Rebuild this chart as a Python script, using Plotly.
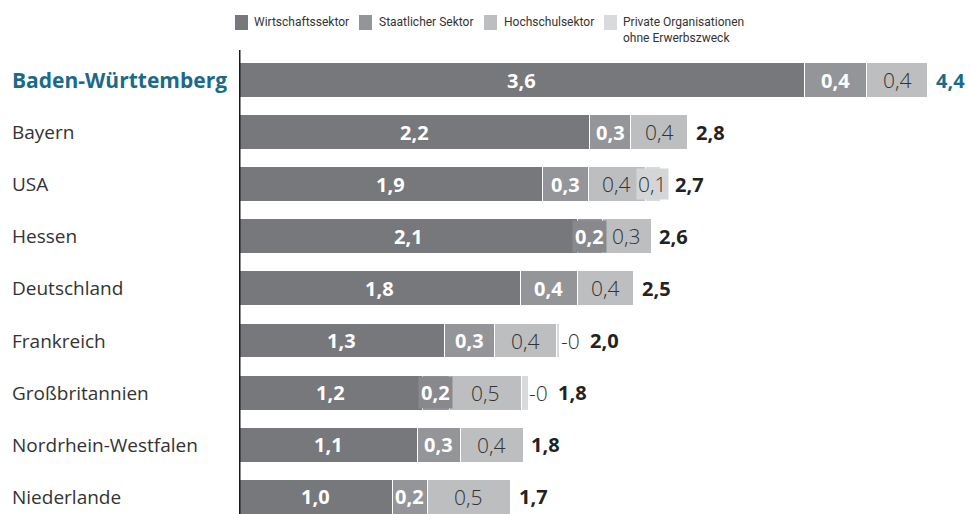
import plotly.graph_objects as go

# ---------------- data ----------------
categories = ["Baden-Württemberg", "Bayern", "USA", "Hessen", "Deutschland",
              "Frankreich", "Großbritannien", "Nordrhein-Westfalen", "Niederlande"]
wirtschaft = [3.58, 2.22, 1.92, 2.14, 1.78, 1.30, 1.16, 1.13, 0.97]
staat = [0.39, 0.26, 0.29, 0.16, 0.36, 0.32, 0.17, 0.27, 0.22]
hochschule = [0.39, 0.36, 0.36, 0.31, 0.36, 0.39, 0.46, 0.40, 0.53]
privat = [0.00, 0.00, 0.10, 0.00, 0.00, 0.02, 0.04, 0.00, 0.00]
series_names = ["Wirtschaftssektor", "Staatlicher Sektor", "Hochschulsektor",
                "Private Organisationen<br>ohne Erwerbszweck"]

# ---------------- style ----------------
W, H = 970, 514
colors = ["#77787b", "#949598", "#bdbec0", "#d9dadb"]
highlight = "#1c6a89"
FONT = "Open Sans"
LEGFONT = "Roboto"
X0PX = 239          # left edge of plot area in px
TOPPX = 54          # top of plot area in px
XMAX = 4.627        # x range end
PXU = (W - X0PX) / XMAX  # px per unit


def fmt(v):
    return f"{v:.1f}".replace(".", ",")


def px(xp):
    return xp / W


def py(ypx):
    return (H - ypx) / H


fig = go.Figure()
series = [wirtschaft, staat, hochschule, privat]
for vals, col, name in zip(series, colors, series_names):
    fig.add_trace(go.Bar(
        y=categories, x=vals, orientation="h", name=name,
        marker=dict(color=col, line=dict(color="white", width=1)),
        hoverinfo="x+y", showlegend=False,
    ))

ann = []
for i, cat in enumerate(categories):
    w, s, h, p = wirtschaft[i], staat[i], hochschule[i], privat[i]
    total = w + s + h + p
    is_bw = i == 0
    # category label
    ann.append(dict(x=px(10), xref="paper", y=cat, yref="y", xanchor="left",
                    text=f"<b>{cat}</b>" if is_bw else cat, showarrow=False,
                    font=dict(family=FONT, size=21 if is_bw else 19,
                              color=highlight if is_bw else "#333333")))
    # wirtschaft
    ann.append(dict(x=w / 2, y=cat, text=f"<b>{fmt(w)}</b>", showarrow=False,
                    font=dict(family=FONT, size=20, color="white")))
    # staat
    a = dict(x=w + s / 2, y=cat, text=f"<b>{fmt(s)}</b>", showarrow=False,
             font=dict(family=FONT, size=20, color="white"))
    if s * PXU < 30:
        a.update(bgcolor="#88898d", borderpad=2)
    ann.append(a)
    # hochschule
    ann.append(dict(x=w + s + h / 2, y=cat, text=fmt(h), showarrow=False,
                    font=dict(family=FONT, size=21, color="#333333", weight=300)))
    # privat + total
    end = total
    shift = 6
    if p >= 0.05:
        ann.append(dict(x=w + s + h + p / 2, y=cat, text=fmt(p), showarrow=False,
                        bgcolor="#d4d5d7", borderpad=1,
                        font=dict(family=FONT, size=21, color="#333333",
                                  weight=300)))
        right_px = (w + s + h + p / 2) * PXU + 14
        shift = right_px - end * PXU + 6
    elif p > 0:
        ann.append(dict(x=end, y=cat, text="-0", showarrow=False, xanchor="left",
                        xshift=-1,
                        font=dict(family=FONT, size=21, color="#333333",
                                  weight=300)))
        shift = 28
    ann.append(dict(x=end, y=cat, text=f"<b>{fmt(total)}</b>", showarrow=False,
                    xanchor="left", xshift=shift,
                    font=dict(family=FONT, size=20,
                              color=highlight if is_bw else "#222222")))

# legend (manual)
shapes = []
leg_sq = [235, 359, 484, 604]
leg_tx = [252, 377, 502, 621]
for sq, tx, col, name in zip(leg_sq, leg_tx, colors, series_names):
    shapes.append(dict(type="rect", xref="paper", yref="paper",
                       x0=px(sq), x1=px(sq + 13), y0=py(30), y1=py(15),
                       fillcolor=col, line=dict(width=0)))
    ann.append(dict(x=px(tx), y=py(13), xref="paper", yref="paper",
                    xanchor="left", yanchor="top", align="left", text=name,
                    showarrow=False,
                    font=dict(family=LEGFONT, size=12, color="#333333")))

# axis line
shapes.append(dict(type="line", xref="x", yref="paper", x0=0, x1=0,
                   y0=0, y1=py(50), line=dict(color="#1a1a1a", width=3)))

fig.update_layout(
    width=W, height=H, barmode="stack", bargap=0.33,
    margin=dict(l=0, r=0, t=0, b=0),
    plot_bgcolor="white", paper_bgcolor="white",
    xaxis=dict(domain=[X0PX / W, 1], range=[0, XMAX], visible=False,
               fixedrange=True),
    yaxis=dict(domain=[0, (H - TOPPX) / H], range=[8.33, -0.5],
               showticklabels=False, showgrid=False, zeroline=False,
               fixedrange=True),
    annotations=ann, shapes=shapes, showlegend=False,
)

fig.write_html("out.html", config={"displayModeBar": False},
               post_script="document.body.style.margin='0';"
                           "document.body.style.overflow='hidden';")
